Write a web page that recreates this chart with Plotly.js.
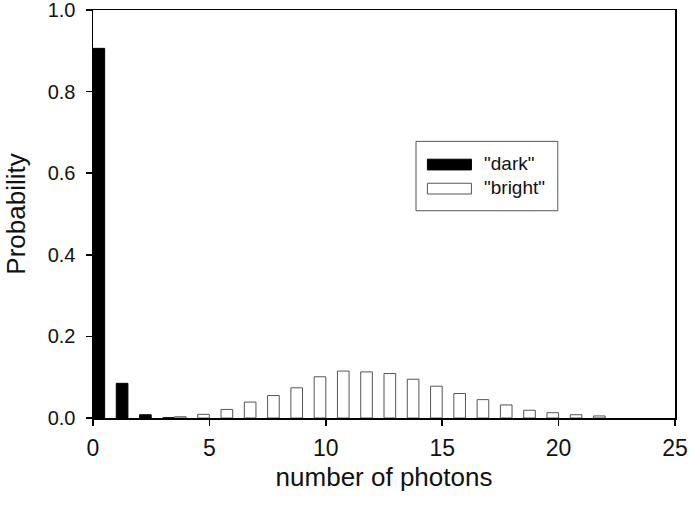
<!DOCTYPE html>
<html>
<head>
<meta charset="utf-8">
<script src="https://cdn.plot.ly/plotly-3.0.1.min.js"></script>
<style>html,body{margin:0;padding:0;background:#fff;}#chart{width:689px;height:507px;}</style>
</head>
<body>
<div id="chart"></div>
<script>
// Data
const darkPhotons = [0, 1, 2, 3];
const darkProb = [0.906, 0.085, 0.008, 0.0005];
const brightPhotons = [4, 5, 6, 7, 8, 9, 10, 11, 12, 13, 14, 15, 16, 17, 18, 19, 20, 21, 22];
const brightProb = [0.003, 0.009, 0.021, 0.039, 0.055, 0.074, 0.101, 0.115, 0.113, 0.109, 0.095, 0.078, 0.060, 0.045, 0.032, 0.019, 0.013, 0.008, 0.005];
const xTicks = [0, 5, 10, 15, 20, 25];
const yTicks = [0.0, 0.2, 0.4, 0.6, 0.8, 1.0];
const legendLabels = ['"dark"', '"bright"'];

const font = '"Liberation Sans", Arial, sans-serif';

const traces = [
  {
    type: 'bar', name: legendLabels[0], x: darkPhotons, y: darkProb,
    width: 0.5, offset: 0,
    marker: {color: '#000000', line: {color: '#000000', width: 1}},
    showlegend: false, hoverinfo: 'x+y'
  },
  {
    type: 'bar', name: legendLabels[1], x: brightPhotons, y: brightProb,
    width: 0.5, offset: -0.5,
    marker: {color: '#ffffff', line: {color: '#555555', width: 1}},
    showlegend: false, hoverinfo: 'x+y'
  }
];

const layout = {
  width: 689, height: 507,
  margin: {l: 93, r: 14, t: 10, b: 89, pad: 0},
  paper_bgcolor: '#ffffff', plot_bgcolor: '#ffffff',
  font: {family: font, size: 21, color: '#000000'},
  barmode: 'overlay',
  showlegend: false,
  xaxis: {
    range: [0, 25], tickvals: xTicks, ticktext: xTicks.map(String),
    ticks: 'outside', ticklen: 6, tickwidth: 1.5, tickcolor: '#000',
    showline: true, linecolor: '#000', linewidth: 1.5, mirror: true,
    showgrid: false, zeroline: false, ticklabelstandoff: 3, ticklabeloverflow: 'allow',
    tickfont: {family: font, size: 23, color: '#111'},
    title: {text: 'number of photons', font: {family: font, size: 26, color: '#111'}, standoff: 7}
  },
  yaxis: {
    range: [0, 1.0], tickvals: yTicks, ticktext: yTicks.map(v => v.toFixed(1)),
    ticks: 'outside', ticklen: 6, tickwidth: 1.5, tickcolor: '#000',
    showline: true, linecolor: '#000', linewidth: 1.5, mirror: true,
    showgrid: false, zeroline: false, ticklabelstandoff: 6, ticklabeloverflow: 'allow',
    tickfont: {family: font, size: 20, color: '#111'},
    title: {text: 'Probability', font: {family: font, size: 26, color: '#111'}, standoff: 14}
  },
  shapes: [
    {type: 'rect', xref: 'paper', yref: 'paper', x0: 0.555, x1: 0.7986, y0: 0.508, y1: 0.678,
     line: {color: '#555', width: 1}, fillcolor: '#ffffff', layer: 'above'},
    {type: 'rect', xref: 'paper', yref: 'paper', x0: 0.5746, x1: 0.6502, y0: 0.608, y1: 0.6343,
     line: {color: '#000', width: 1}, fillcolor: '#000000', layer: 'above'},
    {type: 'rect', xref: 'paper', yref: 'paper', x0: 0.5746, x1: 0.6502, y0: 0.549, y1: 0.5754,
     line: {color: '#555', width: 1}, fillcolor: '#ffffff', layer: 'above'}
  ],
  annotations: [
    {xref: 'paper', yref: 'paper', x: 0.6697, y: 0.624, xanchor: 'left', yanchor: 'middle',
     text: legendLabels[0], showarrow: false, borderpad: 0, font: {family: font, size: 19, color: '#111'}},
    {xref: 'paper', yref: 'paper', x: 0.6697, y: 0.5638, xanchor: 'left', yanchor: 'middle',
     text: legendLabels[1], showarrow: false, borderpad: 0, font: {family: font, size: 19, color: '#111'}}
  ]
};

Plotly.newPlot('chart', traces, layout, {displayModeBar: false, staticPlot: true});
</script>
</body>
</html>
